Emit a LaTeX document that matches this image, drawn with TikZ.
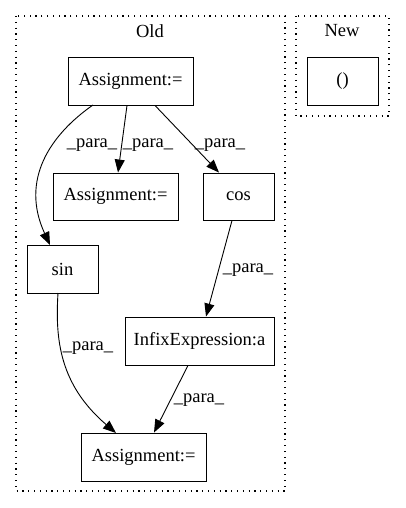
\documentclass[tikz,border=0pt]{standalone}
\usepackage{fontspec}
\setmainfont{Liberation Serif}
\usetikzlibrary{arrows.meta}
\begin{document}
\begin{tikzpicture}[x=1pt,y=-1pt,
  box/.style={draw,line width=0.9pt,rectangle,inner sep=0pt,font=\fontsize{18.5}{21}\selectfont},
  lbl/.style={font=\fontsize{18.5}{21}\selectfont,inner sep=1pt},
  cluster/.style={draw,line width=1.2pt,dash pattern=on 1.2pt off 4.6pt},
  edge/.style={line width=0.9pt,-{Triangle[length=13pt,width=10pt]}}]
\useasboundingbox (0,0) rectangle (405,508);
\draw[cluster] (16,16) rectangle (285,491);
\draw[cluster] (296,16) rectangle (389,116);
\node[lbl] (oldlbl) at (150,31) {Old};
\node[lbl] (newlbl) at (342,31) {New};
\node[box,minimum width=125pt,minimum height=48pt] (a1) at (130.5,81) {Assignment:=};
\node[box,minimum width=71pt,minimum height=48pt] (n1) at (342.5,81) {()};
\node[box,minimum width=125pt,minimum height=47pt] (a2) at (115.5,196.5) {Assignment:=};
\node[box,minimum width=71pt,minimum height=47pt] (cos) at (238.5,196.5) {cos};
\node[box,minimum width=71pt,minimum height=48pt] (sin) at (62.5,269) {sin};
\node[box,minimum width=149pt,minimum height=48pt] (inf) at (199.5,341) {InfixExpression:a};
\node[box,minimum width=125pt,minimum height=48pt] (a3) at (143.5,457) {Assignment:=};
\coordinate (s1) at (93,105);
\coordinate (e1) at (50,245);
\draw[edge] (s1) .. controls (50,135) and (20,180) .. (e1);
\node[lbl] (l1) at (92,145) {\_para\_};
\draw[edge] (a1.south -| 127,0) -- (a2.north -| 118,0);
\node[lbl] (l2) at (148,145) {\_para\_};
\draw[edge] (a1.south -| 155,0) -- (a2.north -| 219,0);
\node[lbl] (l3) at (220,145) {\_para\_};
\draw[edge] (cos.south -| 232,0) -- (inf.north -| 206,0);
\node[lbl] (l4) at (248,270) {\_para\_};
\coordinate (s5) at (58,293);
\coordinate (e5) at (116,433);
\draw[edge] (s5) .. controls (55,340) and (60,385) .. (e5);
\node[lbl] (l5) at (88,348) {\_para\_};
\draw[edge] (inf.south -| 188,0) -- (a3.north -| 154,0);
\node[lbl] (l6) at (199,400) {\_para\_};
\end{tikzpicture}
\end{document}
